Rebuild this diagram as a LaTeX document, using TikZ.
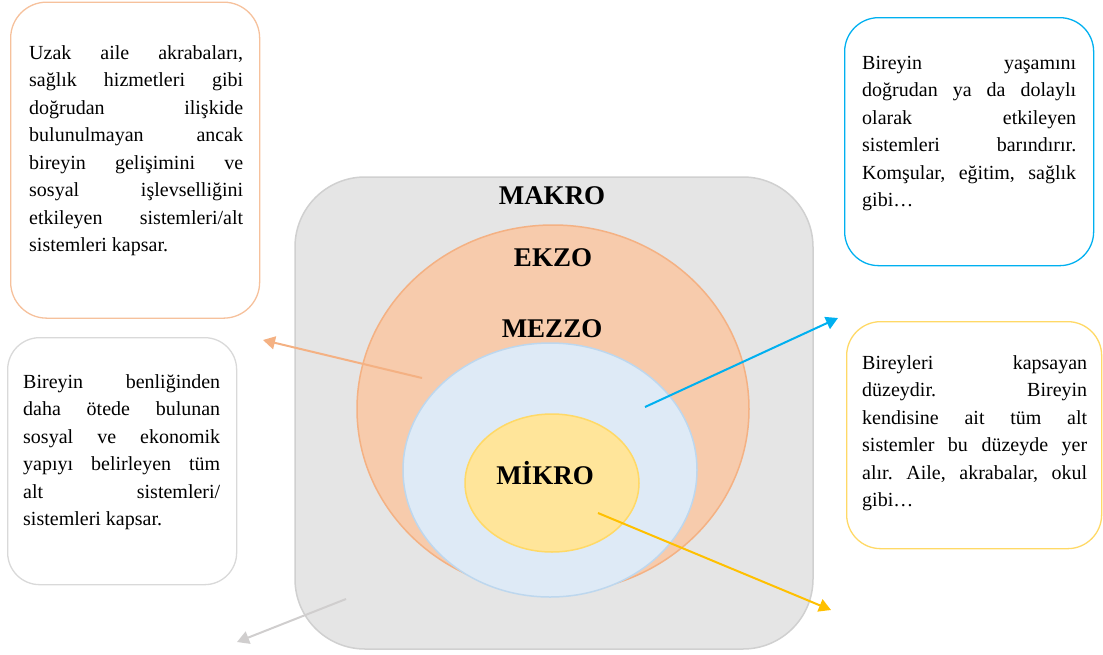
\documentclass[tikz,border=0pt]{standalone}
\usepackage{fontspec}
\setmainfont{Liberation Serif}
\usetikzlibrary{shapes.geometric,arrows.meta}
\definecolor{grayfill}{HTML}{E5E5E5}
\definecolor{grayline}{HTML}{D0D0D0}
\definecolor{ekzofill}{HTML}{F7CBAC}
\definecolor{ekzoline}{HTML}{F4B183}
\definecolor{mezzofill}{HTML}{DEEAF6}
\definecolor{mezzoline}{HTML}{BDD7EE}
\definecolor{mikrofill}{HTML}{FFE59A}
\definecolor{mikroline}{HTML}{FFD966}
\definecolor{blueline}{HTML}{00B0F0}
\definecolor{yellowarrow}{HTML}{FFC000}
\definecolor{boxgray}{HTML}{D9D9D9}
\definecolor{arrowgray}{HTML}{D0CECE}
\newcommand{\jl}[2]{\makebox[#1][s]{#2}}
\frenchspacing
\begin{document}
\begin{tikzpicture}[x=1pt,y=-1pt,
  levelell/.style={ellipse,inner sep=0pt,line width=1.5pt},
  lvllabel/.style={font=\fontsize{27}{30}\selectfont\bfseries,inner sep=0pt,anchor=base},
  infobox/.style={rectangle,fill=white,line width=1.3pt,inner sep=0pt,anchor=north west},
  txt/.style={font=\fontsize{20}{27.5}\selectfont\frenchspacing,inner sep=0pt,align=left,anchor=north west},
  arr/.style={line width=2pt,-{Triangle[length=12pt,width=13pt]}}]
\useasboundingbox (0,0) rectangle (1103,654);

% outer macro box and nested levels
\node[rectangle,rounded corners=70pt,fill=grayfill,draw=grayline,line width=1.5pt,
      minimum width=518pt,minimum height=472pt,inner sep=0pt] (makro) at (554,413) {};
\node[levelell,fill=ekzofill,draw=ekzoline,minimum width=392pt,minimum height=368pt] (ekzo) at (553,409) {};
\node[levelell,fill=mezzofill,draw=mezzoline,minimum width=294pt,minimum height=254pt] (mezzo) at (550,470) {};
\node[levelell,fill=mikrofill,draw=mikroline,minimum width=174pt,minimum height=138pt] (mikro) at (552,483) {};

\node[lvllabel] (lmakro) at (552,204) {MAKRO};
\node[lvllabel] (lekzo) at (553,266) {EKZO};
\node[lvllabel] (lmezzo) at (552,337) {MEZZO};
\node[lvllabel] (lmikro) at (545,484) {MİKRO};

% information boxes
\node[infobox,draw=ekzoline!80,rounded corners=36pt,minimum width=249pt,minimum height=316pt] (b1) at (10,1.5) {};
\node[infobox,draw=blueline,rounded corners=34pt,minimum width=249pt,minimum height=248pt] (b2) at (844,17) {};
\node[infobox,draw=mikroline,rounded corners=34pt,minimum width=255pt,minimum height=227pt] (b3) at (846,321) {};
\node[infobox,draw=boxgray,rounded corners=32pt,minimum width=229pt,minimum height=247pt] (b4) at (7,337) {};

\node[txt] (t1) at (29,44) {\rule{0pt}{15pt}\jl{214pt}{Uzak aile akrabaları,}\\
\jl{214pt}{sağlık hizmetleri gibi}\\
\jl{214pt}{doğrudan ilişkide}\\
\jl{214pt}{bulunulmayan ancak}\\
\jl{214pt}{bireyin gelişimini ve}\\
\jl{214pt}{sosyal işlevselliğini}\\
\jl{214pt}{etkileyen sistemleri/alt}\\
sistemleri kapsar.};

\node[txt] (t2) at (862,54) {\rule{0pt}{15pt}\jl{214pt}{Bireyin yaşamını}\\
\jl{214pt}{doğrudan ya da dolaylı}\\
\jl{214pt}{olarak etkileyen}\\
\jl{214pt}{sistemleri barındırır.}\\
\jl{214pt}{Komşular, eğitim, sağlık}\\
gibi…};

\node[txt] (t3) at (862,354) {\rule{0pt}{15pt}\jl{225pt}{Bireyleri kapsayan}\\
\jl{225pt}{düzeydir. Bireyin}\\
\jl{225pt}{kendisine ait tüm alt}\\
\jl{225pt}{sistemler bu düzeyde yer}\\
\jl{225pt}{alır. Aile, akrabalar, okul}\\
gibi…};

\node[txt] (t4) at (23,373) {\rule{0pt}{15pt}\jl{197pt}{Bireyin benliğinden}\\
\jl{197pt}{daha ötede bulunan}\\
\jl{197pt}{sosyal ve ekonomik}\\
\jl{197pt}{yapıyı belirleyen tüm}\\
\jl{197pt}{alt sistemleri/}\\
sistemleri kapsar.};

% connectors
\coordinate (oS) at (422,378); \coordinate (oT) at (263,340);
\coordinate (bS) at (645,407); \coordinate (bT) at (838,318);
\coordinate (yS) at (598,513); \coordinate (yT) at (831,610);
\coordinate (gS) at (346,599); \coordinate (gT) at (237,642);
\draw[arr,draw=ekzoline,fill=ekzoline] (oS) -- (oT);
\draw[arr,draw=blueline,fill=blueline] (bS) -- (bT);
\draw[arr,draw=yellowarrow,fill=yellowarrow] (yS) -- (yT);
\draw[arr,draw=arrowgray,fill=arrowgray] (gS) -- (gT);
\end{tikzpicture}
\end{document}
